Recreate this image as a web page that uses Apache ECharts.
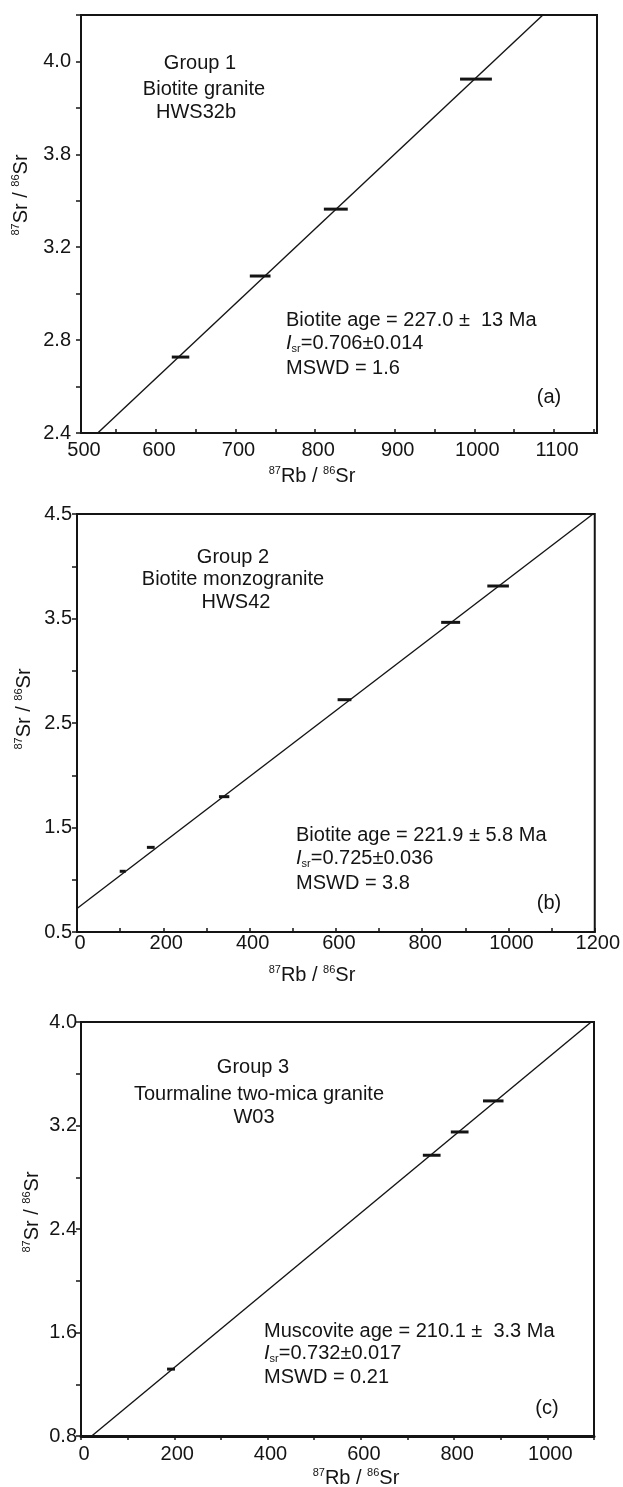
<!DOCTYPE html>
<html>
<head>
<meta charset="utf-8">
<script src="https://cdn.jsdelivr.net/npm/echarts@6/dist/echarts.min.js"></script>
<style>
  html, body { margin: 0; padding: 0; background: #fff; }
  #chart { width: 623px; height: 1487px; }
</style>
</head>
<body>
<div id="chart"></div>
<script>
// ---- Panel (a): Group 1, biotite granite HWS32b ----
const rbA  = [631, 731, 826, 1002];
const srA  = [2.727, 3.076, 3.364, 3.924];
const errA = [11, 13, 15, 20];
const isoA = [[527, 2.4], [1086, 4.2]];
const xTickA  = [550, 600, 650, 700, 750, 800, 850, 900, 950, 1000, 1050, 1100, 1150];
// the frame opens just past 500; its corner carries the "500" label
const xLabelValA  = [506, 600, 700, 800, 900, 1000, 1100];
const xLabelTextA = ['500', '600', '700', '800', '900', '1000', '1100'];
const yLabelValA  = [2.4, 2.8, 3.2, 3.6, 4.0];
const yLabelTextA = ['2.4', '2.8', '3.2', '3.8', '4.0'];

// ---- Panel (b): Group 2, biotite monzogranite HWS42 ----
const rbB  = [106, 171, 341, 620, 866, 976];
const srB  = [1.081, 1.310, 1.795, 2.723, 3.463, 3.811];
const errB = [7, 9, 12, 16, 22, 25];
const isoB = [[0, 0.725], [1196, 4.5]];
const xLabelB = [0, 200, 400, 600, 800, 1000, 1200];
const yLabelB = [0.5, 1.5, 2.5, 3.5, 4.5];

// ---- Panel (c): Group 3, tourmaline two-mica granite W03 ----
const rbC  = [193, 752, 812, 884];
const srC  = [1.317, 2.970, 3.150, 3.390];
const errC = [8.5, 19, 19, 22];
const isoC = [[23, 0.8], [1094, 4.0]];
const xLabelC = [0, 200, 400, 600, 800, 1000];
const yLabelC = [0.8, 1.6, 2.4, 3.2, 4.0];

const INK = '#141414';
const FONT = '"Liberation Sans", Arial, sans-serif';

const rows = (xs, ys, es) => xs.map((x, i) => [x, ys[i], es[i]]);
const pick = (vals, texts) => v => {
  const k = vals.findIndex(t => Math.abs(t - v) < 1e-6);
  return k < 0 ? '' : texts[k];
};

// horizontal error bar: x ± err at the measured 87Sr/86Sr
function errBar(params, api) {
  const x = api.value(0), y = api.value(1), e = api.value(2);
  const p0 = api.coord([x - e, y]);
  const p1 = api.coord([x + e, y]);
  return {
    type: 'rect',
    shape: { x: p0[0], y: p0[1] - 1.5, width: p1[0] - p0[0], height: 3 },
    style: { fill: INK }
  };
}

const gridBase = { show: true, borderColor: INK, borderWidth: 2, backgroundColor: 'transparent' };

function xAxisCfg(idx, o) {
  return {
    type: 'value', gridIndex: idx, min: o.min, max: o.max, interval: o.interval,
    axisLine: { show: true, onZero: false, lineStyle: { color: INK, width: o.lineWidth || 2 } },
    axisTick: Object.assign({ show: true, inside: o.tickInside, length: 4, lineStyle: { color: INK, width: 1.5 } },
                            o.tickValues ? { customValues: o.tickValues } : {}),
    axisLabel: { customValues: o.labels, margin: o.margin, color: INK, fontFamily: FONT, fontSize: 20,
                 padding: [0, 0, 0, 6], formatter: o.fmt || (v => String(Math.round(v))) },
    splitLine: { show: false }
  };
}
function yAxisCfg(idx, o) {
  return {
    type: 'value', gridIndex: idx, min: o.min, max: o.max, interval: o.interval,
    axisLine: { show: true, onZero: false, lineStyle: { color: INK, width: 2 } },
    axisTick: { show: true, inside: false, length: 5, lineStyle: { color: INK, width: 1.5 } },
    axisLabel: { customValues: o.labels, margin: o.margin, color: INK, fontFamily: FONT, fontSize: 20,
                 formatter: o.fmt || (v => v.toFixed(1)) },
    splitLine: { show: false }
  };
}

const chart = echarts.init(document.getElementById('chart'), null, { renderer: 'canvas' });

const supRich = {
  s: { fontSize: 11, fontFamily: FONT, color: INK, verticalAlign: 'top', lineHeight: 22 },
  t: { fontSize: 20, fontFamily: FONT, color: INK, lineHeight: 22 }
};
const isrRich = {
  i: { fontSize: 20, fontFamily: FONT, fontStyle: 'italic', color: INK, lineHeight: 22 },
  b: { fontSize: 11, fontFamily: FONT, color: INK, verticalAlign: 'bottom', lineHeight: 22 },
  n: { fontSize: 20, fontFamily: FONT, color: INK, lineHeight: 22 }
};

function txt(x, y, text, align) {
  return {
    type: 'text', x: x, y: y, silent: true,
    style: { text: text, fill: INK, font: '20px ' + FONT, align: align || 'left', verticalAlign: 'middle' }
  };
}
function richTxt(x, y, text, rich, align, rotation) {
  return {
    type: 'text', x: x, y: y, rotation: rotation || 0, silent: true,
    style: { text: text, rich: rich, fill: INK, font: '20px ' + FONT, align: align || 'left', verticalAlign: 'middle' }
  };
}

const axisNameX = '{s|87}{t|Rb / }{s|86}{t|Sr}';
const axisNameY = '{s|87}{t|Sr / }{s|86}{t|Sr}';

chart.setOption({
  animation: false,
  backgroundColor: '#fff',
  grid: [
    Object.assign({ left: 81, top: 15, width: 516, height: 418 }, gridBase),
    Object.assign({ left: 77, top: 514, width: 519, height: 418 }, gridBase),
    Object.assign({ left: 81, top: 1022, width: 513, height: 414 }, gridBase)
  ],
  xAxis: [
    xAxisCfg(0, { min: 506, max: 1154, tickInside: true, tickValues: xTickA, labels: xLabelValA, margin: 7,
                  fmt: pick(xLabelValA, xLabelTextA) }),
    xAxisCfg(1, { min: 0, max: 1200, interval: 100, tickInside: true, labels: xLabelB, margin: 1 }),
    xAxisCfg(2, { min: 0, max: 1100, interval: 100, tickInside: false, labels: xLabelC, margin: 8, lineWidth: 3 })
  ],
  yAxis: [
    yAxisCfg(0, { min: 2.4, max: 4.2, interval: 0.2, labels: yLabelValA, margin: 10, fmt: pick(yLabelValA, yLabelTextA) }),
    yAxisCfg(1, { min: 0.5, max: 4.5, interval: 0.5, labels: yLabelB, margin: 5 }),
    yAxisCfg(2, { min: 0.8, max: 4.0, interval: 0.4, labels: yLabelC, margin: 4 })
  ],
  series: [
    { type: 'line', xAxisIndex: 0, yAxisIndex: 0, data: isoA, symbol: 'none', clip: true, lineStyle: { color: INK, width: 1.4 } },
    { type: 'line', xAxisIndex: 1, yAxisIndex: 1, data: isoB, symbol: 'none', clip: true, lineStyle: { color: INK, width: 1.4 } },
    { type: 'line', xAxisIndex: 2, yAxisIndex: 2, data: isoC, symbol: 'none', clip: true, lineStyle: { color: INK, width: 1.4 } },
    { type: 'custom', xAxisIndex: 0, yAxisIndex: 0, renderItem: errBar, encode: { x: 0, y: 1 }, data: rows(rbA, srA, errA) },
    { type: 'custom', xAxisIndex: 1, yAxisIndex: 1, renderItem: errBar, encode: { x: 0, y: 1 }, data: rows(rbB, srB, errB) },
    { type: 'custom', xAxisIndex: 2, yAxisIndex: 2, renderItem: errBar, encode: { x: 0, y: 1 }, data: rows(rbC, srC, errC) }
  ],
  graphic: [
    // axis titles
    richTxt(312, 476, axisNameX, supRich, 'center'),
    richTxt(21, 195, axisNameY, supRich, 'center', Math.PI / 2),
    richTxt(312, 975, axisNameX, supRich, 'center'),
    richTxt(24, 709, axisNameY, supRich, 'center', Math.PI / 2),
    richTxt(356, 1478, axisNameX, supRich, 'center'),
    richTxt(32, 1212, axisNameY, supRich, 'center', Math.PI / 2),
    // panel (a)
    txt(200, 63, 'Group 1', 'center'),
    txt(204, 89, 'Biotite granite', 'center'),
    txt(196, 112, 'HWS32b', 'center'),
    txt(286, 320, 'Biotite age = 227.0 ±  13 Ma'),
    richTxt(286, 343, '{i|I}{b|sr}{n|=0.706±0.014}', isrRich),
    txt(286, 368, 'MSWD = 1.6'),
    txt(549, 397, '(a)', 'center'),
    // panel (b)
    txt(233, 557, 'Group 2', 'center'),
    txt(233, 579, 'Biotite monzogranite', 'center'),
    txt(236, 602, 'HWS42', 'center'),
    txt(296, 835, 'Biotite age = 221.9 ± 5.8 Ma'),
    richTxt(296, 858, '{i|I}{b|sr}{n|=0.725±0.036}', isrRich),
    txt(296, 883, 'MSWD = 3.8'),
    txt(549, 903, '(b)', 'center'),
    // panel (c)
    txt(253, 1067, 'Group 3', 'center'),
    txt(259, 1094, 'Tourmaline two-mica granite', 'center'),
    txt(254, 1117, 'W03', 'center'),
    txt(264, 1331, 'Muscovite age = 210.1 ±  3.3 Ma'),
    richTxt(264, 1353, '{i|I}{b|sr}{n|=0.732±0.017}', isrRich),
    txt(264, 1377, 'MSWD = 0.21'),
    txt(547, 1408, '(c)', 'center')
  ]
});
</script>
</body>
</html>
